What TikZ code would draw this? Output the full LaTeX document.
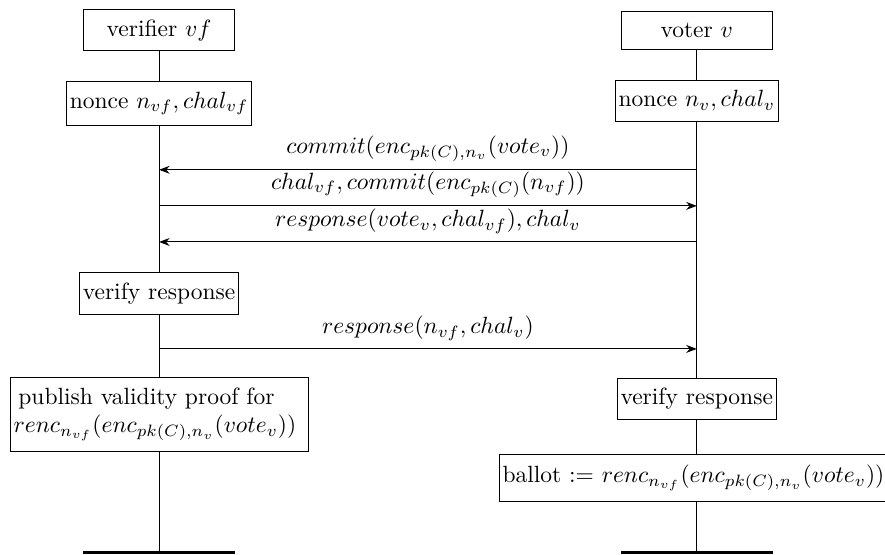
\documentclass[tikz,border=0pt]{standalone}
\usepackage{amsmath}
\usepackage{tikz}
\usetikzlibrary{arrows.meta}
\usetikzlibrary{calc}
\usetikzlibrary{positioning}
\tikzset{node distance=0.45cm, auto}
\tikzstyle{block} = [draw, fill=white, inner xsep=1.5pt, inner ysep=4.3pt]
\tikzstyle{head} = [block, minimum width=2.26cm, minimum height=0.57cm]
\tikzstyle{msg} = [draw, -{Stealth[length=4.5pt]}]
\tikzstyle{life} = [draw]
\tikzstyle{lifeend} = [draw, very thick]

\begin{document}
\begin{tikzpicture}
  \useasboundingbox (-2.38,0.45) rectangle (10.86,-7.84);

  % Define actors
  \node[head] (vf) at (0,0) {verifier $vf$};
  \node[head, right=5.77cm of vf] (voter) {voter $v$};

  % Define nonce blocks
  \node[block, below=of vf] (vfnonce) {nonce $n_{vf}, chal_{vf}$};
  \node[block, below=of voter] (vnonce) {nonce $n_v, chal_v$};

  % Define message points
  \coordinate (vfm1) at (0,-2.09);
  \coordinate (vfm2) at (0,-2.63);
  \coordinate (vfm3) at (0,-3.17);
  \coordinate (vfm4) at (0,-4.77);
  \coordinate (vm1) at (voter |- vfm1);
  \coordinate (vm2) at (voter |- vfm2);
  \coordinate (vm3) at (voter |- vfm3);
  \coordinate (vm4) at (voter |- vfm4);

  % Define ends
  \coordinate (vfend) at (0,-7.81);
  \coordinate (vend) at (voter |- vfend);

  % Define verification blocks
  \node[block] (vfcheck) at (0,-3.94) {verify response};
  \node[block, align=left, text width=4.35cm] (vfproof) at (0,-5.75)
    {\hspace{2pt}publish validity proof for\\ $renc_{n_{vf}}(enc_{pk(C),n_v}(vote_v))$};
  \node[block] (vcheck) at (voter |- 0,-5.52) {verify response};
  \node[block] (vballot) at ($(voter |- 0,-6.70)+(-0.05,0)$)
    {ballot := $renc_{n_{vf}}(enc_{pk(C),n_v}(vote_v))$};

  % Draw lifelines
  \draw[life] (vf) -- (vfnonce);
  \draw[life] (vfnonce) -- (vfcheck);
  \draw[life] (vfcheck) -- (vfproof);
  \draw[life] (vfproof) -- (vfend);
  \draw[life] (voter) -- (vnonce);
  \draw[life] (vnonce) -- (vcheck);
  \draw[life] (vcheck) -- (vballot.north -| vcheck);
  \draw[life] (vballot.south -| vend) -- (vend);
  \draw[lifeend] (vfend -| vf.west) -- (vfend -| vf.east);
  \draw[lifeend] (vend -| voter.west) -- (vend -| voter.east);

  % Draw messages
  \draw[msg] (vm1) -- (vfm1) node[midway, above] {$commit(enc_{pk(C),n_v}(vote_v))$};
  \draw[msg] (vfm2) -- (vm2) node[midway, above] {$chal_{vf}, commit(enc_{pk(C)}(n_{vf}))$};
  \draw[msg] (vm3) -- (vfm3) node[midway, above] {$response(vote_v, chal_{vf}), chal_v$};
  \draw[msg] (vfm4) -- (vm4) node[midway, above] {$response(n_{vf}, chal_v)$};

\end{tikzpicture}
\end{document}
